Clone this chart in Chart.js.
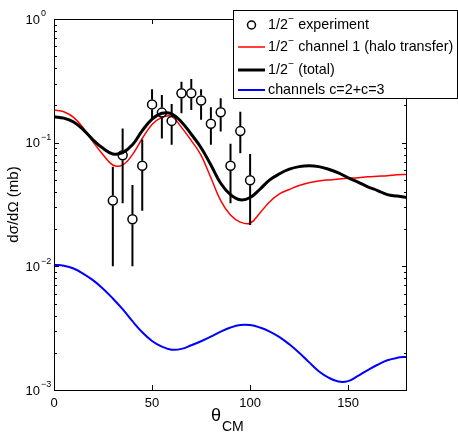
<!DOCTYPE html>
<html>
<head>
<meta charset="utf-8">
<script src="https://cdn.jsdelivr.net/npm/chart.js@4"></script>
<style>
  body { margin: 0; background: #fff; }
  canvas { display: block; }
</style>
</head>
<body>
<canvas id="xsChart" width="458" height="434"></canvas>
<script>
const angles = [0, 5, 10, 15, 20, 25, 30, 35, 40, 45, 50, 55, 60, 65, 70, 75, 80, 85, 90,
    95, 100, 105, 110, 115, 120, 125, 130, 135, 140, 145, 150, 155, 160, 165, 170, 175, 180];

// 1/2- (total)
const totalCurve = [0.162, 0.158, 0.147, 0.127, 0.105, 0.090, 0.081, 0.083, 0.096, 0.125,
    0.155, 0.173, 0.171, 0.147, 0.117, 0.091, 0.066, 0.047, 0.038, 0.0345, 0.036, 0.042,
    0.050, 0.056, 0.061, 0.064, 0.065, 0.064, 0.061, 0.057, 0.052, 0.048, 0.044, 0.041,
    0.038, 0.037, 0.036];

// 1/2- channel 1 (halo transfer)
const channel1Curve = [0.184, 0.178, 0.160, 0.131, 0.101, 0.080, 0.066, 0.066, 0.080, 0.108,
    0.140, 0.160, 0.163, 0.133, 0.104, 0.079, 0.052, 0.034, 0.026, 0.0228, 0.0223, 0.027,
    0.0333, 0.0385, 0.0418, 0.045, 0.0475, 0.049, 0.050, 0.0508, 0.0515, 0.052, 0.053,
    0.0535, 0.054, 0.055, 0.0552];

// channels c=2+c=3
const channels23Curve = [0.0103, 0.0101, 0.0096, 0.0087, 0.0077, 0.0066, 0.0055, 0.0045,
    0.0036, 0.00293, 0.00249, 0.00224, 0.00212, 0.00215, 0.0023, 0.00248, 0.0027, 0.00297,
    0.0032, 0.00335, 0.00335, 0.0032, 0.00297, 0.00268, 0.00234, 0.0020, 0.00168, 0.00142,
    0.00126, 0.00117, 0.00118, 0.0013, 0.00145, 0.0016, 0.00174, 0.00182, 0.00186];

// experiment
const expAngles = [30, 35, 40, 45, 50, 55, 60, 65, 70, 75, 80, 85, 90, 95, 100];
const expValues = [0.034, 0.079, 0.024, 0.065, 0.204, 0.175, 0.150, 0.251, 0.251, 0.219,
    0.142, 0.176, 0.065, 0.124, 0.0497];
const expLow = [0.010, 0.0324, 0.010, 0.0282, 0.157, 0.108, 0.096, 0.173, 0.184, 0.153,
    0.096, 0.123, 0.0324, 0.082, 0.0216];
const expHigh = [0.064, 0.130, 0.0455, 0.106, 0.270, 0.243, 0.205, 0.311, 0.327, 0.270,
    0.193, 0.229, 0.098, 0.178, 0.081];

const xTicks = [0, 50, 100, 150];
const yTicks = [0.001, 0.01, 0.1, 1];
const yTickExp = ["\u22123", "\u22122", "\u22121", "0"];

const legendLabels = [
    ["1/2", "\u2212", " experiment"],
    ["1/2", "\u2212", " channel 1 (halo transfer)"],
    ["1/2", "\u2212", " (total)"],
    ["channels c=2+c=3", "", ""]
];

const FONT = "Liberation Sans, Arial, sans-serif";

function pairs(xs, ys) {
    return xs.map((x, i) => ({ x: x, y: ys[i] }));
}

// text with a raised small part, e.g. 1/2^- or 10^-1
function drawSupText(ctx, base, sup, rest, x, y, size) {
    ctx.font = size + "px " + FONT;
    ctx.textAlign = "left";
    ctx.textBaseline = "middle";
    ctx.fillText(base, x, y);
    let w = ctx.measureText(base).width;
    if (sup) {
        ctx.font = Math.round(size * 0.7) + "px " + FONT;
        ctx.fillText(sup, x + w + 0.5, y - size * 0.4);
        w += ctx.measureText(sup).width + 0.5;
    }
    ctx.font = size + "px " + FONT;
    ctx.fillText(rest, x + w, y);
}

// ---- error bars for the experimental points ----
const errorBars = {
    id: "errorBars",
    afterDatasetsDraw(chart) {
        const ctx = chart.ctx;
        const xs = chart.scales.x, ys = chart.scales.y;
        ctx.save();
        ctx.strokeStyle = "#000";
        ctx.lineWidth = 2;
        expAngles.forEach((a, i) => {
            const px = xs.getPixelForValue(a);
            const py = ys.getPixelForValue(expValues[i]);
            const top = ys.getPixelForValue(expHigh[i]);
            const bot = ys.getPixelForValue(expLow[i]);
            ctx.beginPath();
            if (top < py - 5) { ctx.moveTo(px, top); ctx.lineTo(px, py - 5); }
            if (bot > py + 5) { ctx.moveTo(px, py + 5); ctx.lineTo(px, bot); }
            ctx.stroke();
        });
        ctx.restore();
    }
};

// ---- MATLAB style box, ticks, labels and legend ----
const frame = {
    id: "frame",
    afterDraw(chart) {
        const ctx = chart.ctx;
        const a = chart.chartArea;
        const xs = chart.scales.x, ys = chart.scales.y;
        ctx.save();
        ctx.strokeStyle = "#000";
        ctx.fillStyle = "#000";
        ctx.lineWidth = 1;
        ctx.strokeRect(a.left + 0.5, a.top + 0.5, a.right - a.left - 1, a.bottom - a.top);

        // x ticks
        ctx.beginPath();
        xTicks.forEach(t => {
            const px = Math.round(xs.getPixelForValue(t)) + 0.5;
            ctx.moveTo(px, a.bottom); ctx.lineTo(px, a.bottom - 5);
            ctx.moveTo(px, a.top); ctx.lineTo(px, a.top + 5);
        });
        // y ticks, log minor ticks too
        for (let d = -3; d < 0; d++) {
            for (let m = 1; m <= 9; m++) {
                const v = m * Math.pow(10, d);
                const py = Math.round(ys.getPixelForValue(v)) + 0.5;
                const len = m === 1 ? 5 : 3;
                ctx.moveTo(a.left, py); ctx.lineTo(a.left + len, py);
                ctx.moveTo(a.right, py); ctx.lineTo(a.right - len, py);
            }
        }
        ctx.stroke();

        // tick labels
        ctx.font = "13px " + FONT;
        ctx.textAlign = "center";
        ctx.textBaseline = "middle";
        xTicks.forEach(t => {
            ctx.fillText(String(t), xs.getPixelForValue(t), a.bottom + 13);
        });
        yTicks.forEach((t, i) => {
            const py = ys.getPixelForValue(t);
            ctx.font = "13px " + FONT;
            ctx.textAlign = "right";
            ctx.fillText("10", 40, py + 1);
            ctx.font = "9px " + FONT;
            ctx.textAlign = "left";
            ctx.fillText(yTickExp[i], 41, py - 5);
        });

        // axis titles
        ctx.font = "18px " + FONT;
        ctx.textAlign = "left";
        ctx.fillText("\u03b8", 211, 416);
        ctx.font = "14px " + FONT;
        ctx.fillText("CM", 222, 427);

        ctx.save();
        ctx.translate(14, (a.top + a.bottom) / 2);
        ctx.rotate(-Math.PI / 2);
        ctx.font = "15px " + FONT;
        ctx.textAlign = "center";
        ctx.fillText("d\u03c3/d\u03a9 (mb)", 0, 0);
        ctx.restore();

        // legend
        ctx.fillStyle = "#fff";
        ctx.fillRect(233, 10, 224, 89);
        ctx.strokeStyle = "#000";
        ctx.lineWidth = 1;
        ctx.strokeRect(233.5, 10.5, 224, 88);
        const rows = [25, 47, 70, 90];
        ctx.beginPath();
        ctx.arc(251.5, rows[0], 4, 0, Math.PI * 2);
        ctx.lineWidth = 1.5;
        ctx.stroke();
        const sample = [null, ["#ff0000", 1.5], ["#000000", 3], ["#0000ff", 2]];
        for (let i = 1; i < 4; i++) {
            ctx.strokeStyle = sample[i][0];
            ctx.lineWidth = sample[i][1];
            ctx.beginPath();
            ctx.moveTo(238, rows[i]);
            ctx.lineTo(265, rows[i]);
            ctx.stroke();
        }
        ctx.fillStyle = "#000";
        legendLabels.forEach((l, i) => drawSupText(ctx, l[0], l[1], l[2], 268, rows[i], 14.3));
        ctx.restore();
    }
};

const ctx = document.getElementById("xsChart").getContext("2d");
new Chart(ctx, {
    type: "line",
    data: {
        datasets: [
            {
                label: "1/2- experiment",
                data: pairs(expAngles, expValues),
                showLine: false,
                pointStyle: "circle",
                pointRadius: 4.5,
                pointBorderWidth: 1.5,
                pointBorderColor: "#000",
                pointBackgroundColor: "rgba(0,0,0,0)"
            },
            {
                label: "1/2- (total)",
                data: pairs(angles, totalCurve),
                borderColor: "#000000",
                borderWidth: 3,
                pointRadius: 0,
                tension: 0.4
            },
            {
                label: "1/2- channel 1 (halo transfer)",
                data: pairs(angles, channel1Curve),
                borderColor: "#ff0000",
                borderWidth: 1.5,
                pointRadius: 0,
                tension: 0.4
            },
            {
                label: "channels c=2+c=3",
                data: pairs(angles, channels23Curve),
                borderColor: "#0000ff",
                borderWidth: 2,
                pointRadius: 0,
                tension: 0.4
            }
        ]
    },
    options: {
        responsive: false,
        animation: false,
        devicePixelRatio: 1,
        layout: { padding: { left: 54, right: 51, top: 19, bottom: 44 } },
        plugins: {
            legend: { display: false },
            tooltip: { enabled: false }
        },
        scales: {
            x: { type: "linear", min: 0, max: 180, display: false },
            y: { type: "logarithmic", min: 0.001, max: 1, display: false }
        }
    },
    plugins: [errorBars, frame]
});
</script>
</body>
</html>
